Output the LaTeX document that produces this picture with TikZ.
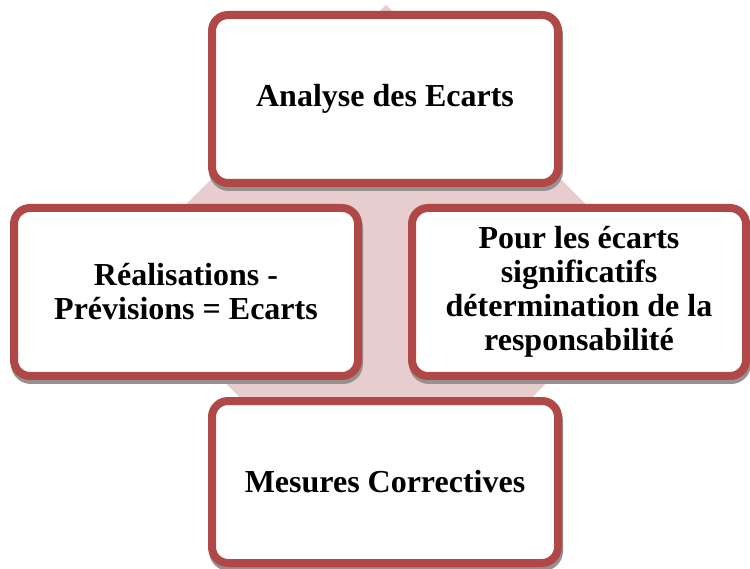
\documentclass[tikz,border=0pt]{standalone}
\usepackage{fontspec}
\setmainfont{Liberation Serif}
\definecolor{boxred}{RGB}{175,72,70}
\definecolor{backpink}{RGB}{231,205,205}
\definecolor{shadowgray}{RGB}{150,144,144}
\begin{document}
\begin{tikzpicture}[x=1pt, y=-1pt,
  stagebox/.style={draw=boxred, fill=white, line width=8pt, rounded corners=16pt,
    align=center, inner sep=0pt, font=\fontsize{32}{34}\selectfont\bfseries},
  stageshadow/.style={draw=shadowgray, fill=shadowgray, line width=8pt, rounded corners=16pt}]
  \useasboundingbox (0,0) rectangle (750,569);

  % pink diamond behind the four stages
  \fill[backpink] (386,5) -- (656,274) -- (386,543) -- (116,274) -- cycle;

  % drop shadows
  \draw[stageshadow] (213,19) rectangle (559,187);
  \draw[stageshadow] (15,212) rectangle (359,380);
  \draw[stageshadow] (413,212) rectangle (747,380);
  \draw[stageshadow] (213,405) rectangle (559,567);

  % the four stages
  \node[stagebox, minimum width=346pt, minimum height=168pt] (analyse) at (385,99)
    {Analyse des Ecarts};
  \node[stagebox, minimum width=344pt, minimum height=168pt] (ecarts) at (186,292)
    {Réalisations -\\Prévisions = Ecarts};
  \node[stagebox, minimum width=334pt, minimum height=168pt] (responsabilite) at (579,292)
    {Pour les écarts\\significatifs\\détermination de la\\responsabilité};
  \node[stagebox, minimum width=346pt, minimum height=162pt] (mesures) at (385,482)
    {Mesures Correctives};
\end{tikzpicture}
\end{document}
